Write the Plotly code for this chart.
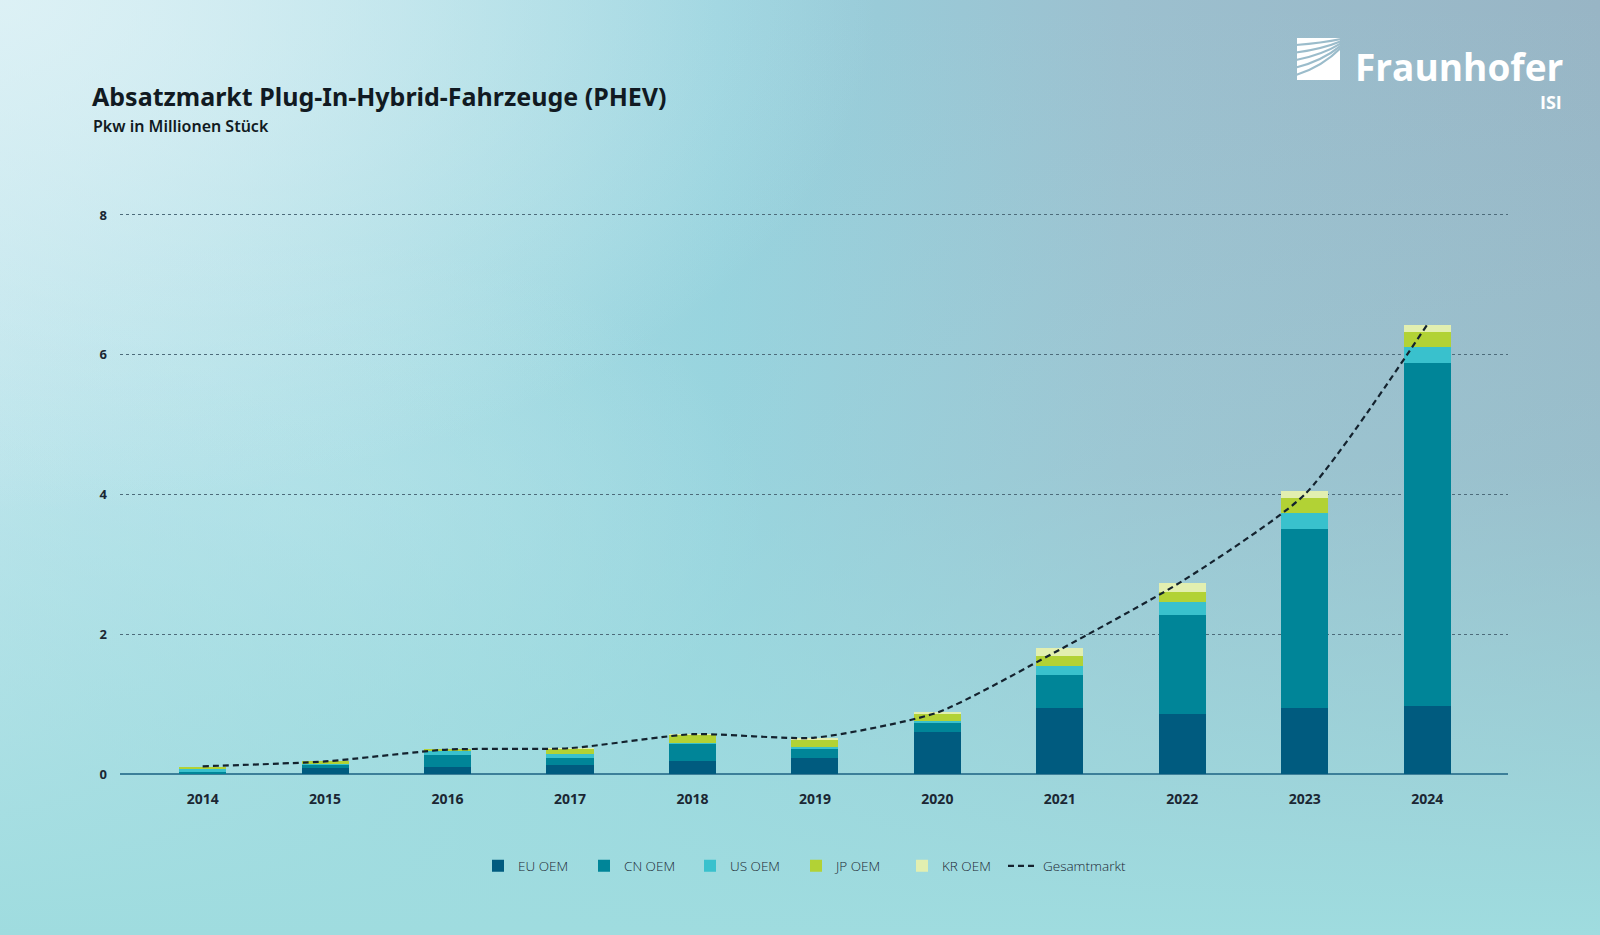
import base64
import plotly.graph_objects as go

# ---------------- data ----------------
years = [2014, 2015, 2016, 2017, 2018, 2019, 2020, 2021, 2022, 2023, 2024]
eu_oem = [0.01, 0.08, 0.10, 0.13, 0.19, 0.23, 0.60, 0.94, 0.86, 0.95, 0.97]
cn_oem = [0.02, 0.05, 0.17, 0.105, 0.24, 0.13, 0.13, 0.47, 1.41, 2.55, 4.91]
us_oem = [0.04, 0.02, 0.06, 0.05, 0.02, 0.02, 0.03, 0.14, 0.19, 0.23, 0.23]
jp_oem = [0.035, 0.03, 0.02, 0.08, 0.11, 0.11, 0.10, 0.14, 0.14, 0.22, 0.21]
kr_oem = [0.0, 0.0, 0.0, 0.005, 0.01, 0.02, 0.03, 0.11, 0.13, 0.10, 0.11]
gesamtmarkt = [0.11, 0.18, 0.35, 0.37, 0.57, 0.52, 0.88, 1.78, 2.76, 4.00, 6.43]

y_ticks = [0, 2, 4, 6, 8]
series_names = ["EU OEM", "CN OEM", "US OEM", "JP OEM", "KR OEM"]
series_values = [eu_oem, cn_oem, us_oem, jp_oem, kr_oem]
series_colors = ["#005b7f", "#008598", "#39c1cd", "#b2d235", "#e2efb0"]

title = "Absatzmarkt Plug-In-Hybrid-Fahrzeuge (PHEV)"
subtitle = "Pkw in Millionen Stück"

# ---------------- layout geometry ----------------
W, H = 1600, 935
ML, MR, MT, MB = 120, 92, 208, 161
PW, PH = W - ML - MR, H - MT - MB
TXT = "#1b2733"
FONT = "Noto Sans"


def px(x):
    return (x - ML) / PW


def py(y):
    return (H - MB - y) / PH


# ---------------- background (gradient + logo mark) ----------------
stripes = ""
for i in range(5):
    y0 = 45 + i * 7.5
    stripes += (
        f"<path d='M1296 {y0} Q1322 {y0 - 2 - i * 1.5} 1341 {39 + i * 2.2}' "
        f"stroke='#9bbccb' stroke-width='2.2' fill='none'/>"
    )
svg = f"""<svg xmlns='http://www.w3.org/2000/svg' width='{W}' height='{H}' viewBox='0 0 {W} {H}'>
<defs>
<linearGradient id='h' x1='0' y1='0' x2='1' y2='0'>
<stop offset='0' stop-color='#c4e6ee'/>
<stop offset='0.3' stop-color='#a3d9e2'/>
<stop offset='0.45' stop-color='#97d2de'/>
<stop offset='0.7' stop-color='#9cc0cf'/>
<stop offset='1' stop-color='#98b5c5'/>
</linearGradient>
<linearGradient id='v' x1='0' y1='0' x2='0' y2='1'>
<stop offset='0' stop-color='#9edcdf' stop-opacity='0'/>
<stop offset='0.5' stop-color='#9edcdf' stop-opacity='0.25'/>
<stop offset='1' stop-color='#9fdcdf' stop-opacity='1'/>
</linearGradient>
<radialGradient id='r' cx='0' cy='0' r='0.55' gradientUnits='objectBoundingBox'>
<stop offset='0' stop-color='#dff2f6' stop-opacity='0.9'/>
<stop offset='1' stop-color='#dff2f6' stop-opacity='0'/>
</radialGradient>
<radialGradient id='r2' cx='0.18' cy='0.55' r='0.3' gradientUnits='objectBoundingBox'>
<stop offset='0' stop-color='#bfe7ee' stop-opacity='0.6'/>
<stop offset='1' stop-color='#bfe7ee' stop-opacity='0'/>
</radialGradient>
</defs>
<rect width='{W}' height='{H}' fill='url(#h)'/>
<rect width='{W}' height='{H}' fill='url(#r2)'/>
<rect width='{W}' height='{H}' fill='url(#v)'/>
<rect width='{W}' height='{H}' fill='url(#r)'/>
<rect x='1297' y='38' width='43' height='42' fill='white'/>
{stripes}
</svg>"""
bg_uri = "data:image/svg+xml;base64," + base64.b64encode(svg.encode()).decode()

# ---------------- figure ----------------
fig = go.Figure()
for name, vals, col in zip(series_names, series_values, series_colors):
    fig.add_trace(go.Bar(
        x=years, y=vals, name=name, marker=dict(color=col, line=dict(width=0)),
        width=0.385, legend="legend",
    ))
fig.add_trace(go.Scatter(
    x=years, y=gesamtmarkt, name="Gesamtmarkt", mode="lines", legend="legend2",
    line=dict(color="#14222e", width=2.2, dash="6px,4px", shape="spline", smoothing=0.6),
))

legend_font = dict(size=13.5, color=TXT, family="Open Sans", weight=300)

fig.update_layout(
    width=W, height=H,
    margin=dict(l=ML, r=MR, t=MT, b=MB),
    barmode="stack",
    paper_bgcolor="#a3d3dc",
    plot_bgcolor="rgba(0,0,0,0)",
    font=dict(family=FONT, color=TXT),
    showlegend=True,
    legend=dict(
        orientation="h", traceorder="normal",
        x=px(478), xanchor="left", y=py(866), yanchor="middle",
        font=legend_font, bgcolor="rgba(0,0,0,0)",
        entrywidth=61, entrywidthmode="pixels", itemsizing="constant",
    ),
    legend2=dict(
        orientation="h",
        x=px(1003), xanchor="left", y=py(866), yanchor="middle",
        font=legend_font, bgcolor="rgba(0,0,0,0)",
    ),
    xaxis=dict(
        range=[2013.325, 2024.66], tickmode="array", tickvals=years,
        ticktext=[str(y) for y in years],
        showgrid=False, zeroline=False, showline=False,
        ticks="outside", ticklen=12, tickcolor="rgba(0,0,0,0)",
        tickfont=dict(size=14, family=FONT, color=TXT, weight="bold"),
    ),
    yaxis=dict(
        range=[0, 8.1], tickmode="array", tickvals=y_ticks,
        showgrid=True, gridcolor="#4d6b7a", griddash="dot", gridwidth=1,
        zeroline=True, zerolinecolor="#3c7f99", zerolinewidth=2,
        showline=False, ticklabelstandoff=12,
        tickfont=dict(size=13, family=FONT, color=TXT, weight="bold"),
    ),
    images=[dict(
        source=bg_uri, xref="paper", yref="paper",
        x=px(0), y=py(0), sizex=W / PW, sizey=H / PH,
        xanchor="left", yanchor="top", sizing="stretch", layer="below",
    )],
    annotations=[
        dict(text=f"<b>{title}</b>", xref="paper", yref="paper", x=px(90), y=py(96),
             xanchor="left", yanchor="middle", showarrow=False,
             font=dict(size=25, family=FONT, color="#111a22")),
        dict(text=subtitle, xref="paper", yref="paper", x=px(91), y=py(126),
             xanchor="left", yanchor="middle", showarrow=False,
             font=dict(size=16, family=FONT, color="#111a22", weight=600)),
        dict(text="<b>Fraunhofer</b>", xref="paper", yref="paper", x=px(1566), y=py(66),
             xanchor="right", yanchor="middle", showarrow=False,
             font=dict(size=37, family="Open Sans", color="white")),
        dict(text="<b>ISI</b>", xref="paper", yref="paper", x=px(1564), y=py(102),
             xanchor="right", yanchor="middle", showarrow=False,
             font=dict(size=18, family="Open Sans", color="white")),
    ],
)

fig.write_html(
    "out.html",
    config={"displayModeBar": False},
    post_script="document.body.style.margin='0';document.body.style.overflow='hidden';",
)
